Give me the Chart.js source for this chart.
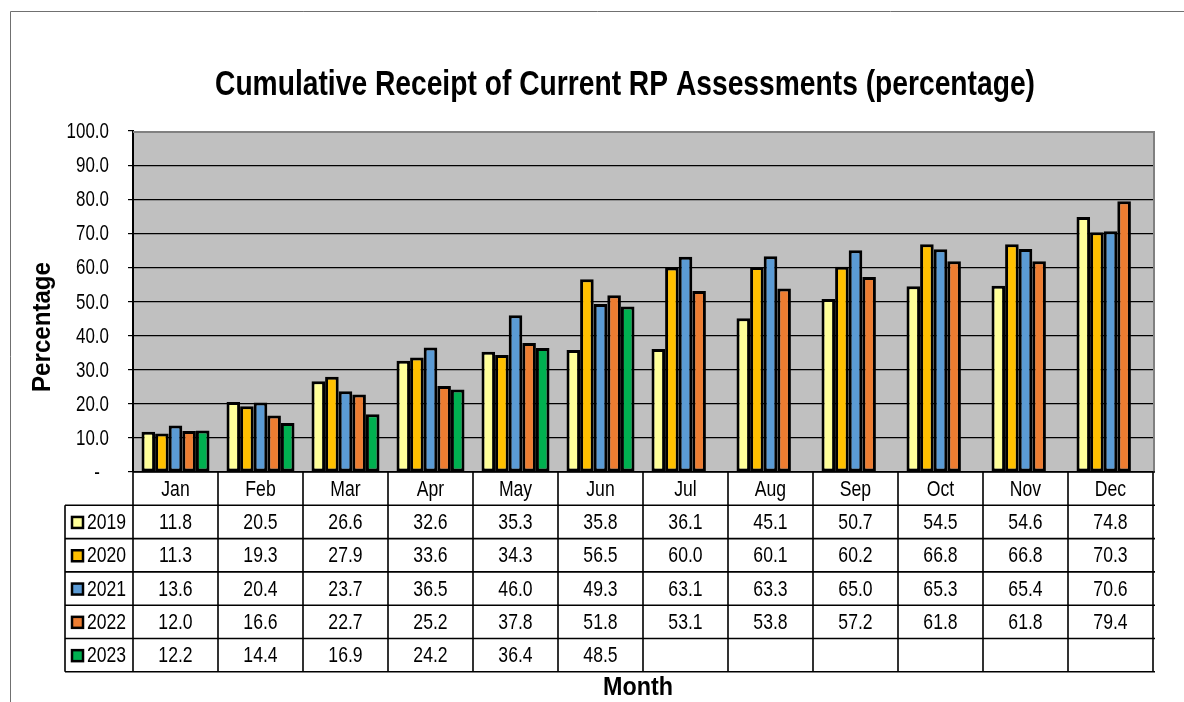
<!DOCTYPE html>
<html>
<head>
<meta charset="utf-8">
<script src="https://cdn.jsdelivr.net/npm/chart.js@4.4.1/dist/chart.umd.min.js"></script>
<style>
  html, body { margin: 0; padding: 0; background: #fff; }
  #wrap { width: 1184px; height: 702px; }
</style>
</head>
<body>
<div id="wrap"><canvas id="rpChart" width="1184" height="702"></canvas></div>
<script>
const months = ['Jan', 'Feb', 'Mar', 'Apr', 'May', 'Jun', 'Jul', 'Aug', 'Sep', 'Oct', 'Nov', 'Dec'];
const years = ['2019', '2020', '2021', '2022', '2023'];
const y2019 = [11.8, 20.5, 26.6, 32.6, 35.3, 35.8, 36.1, 45.1, 50.7, 54.5, 54.6, 74.8];
const y2020 = [11.3, 19.3, 27.9, 33.6, 34.3, 56.5, 60.0, 60.1, 60.2, 66.8, 66.8, 70.3];
const y2021 = [13.6, 20.4, 23.7, 36.5, 46.0, 49.3, 63.1, 63.3, 65.0, 65.3, 65.4, 70.6];
const y2022 = [12.0, 16.6, 22.7, 25.2, 37.8, 51.8, 53.1, 53.8, 57.2, 61.8, 61.8, 79.4];
const y2023 = [12.2, 14.4, 16.9, 24.2, 36.4, 48.5, null, null, null, null, null, null];
const yTicks = [0, 10, 20, 30, 40, 50, 60, 70, 80, 90, 100];

const seriesData = [y2019, y2020, y2021, y2022, y2023];
const colors = ['#FFFF99', '#FFC000', '#5B9BD5', '#ED7D31', '#00B050'];

const FONT = 'Arial, "Liberation Sans", sans-serif';
const SQUEEZE = 0.8; // o original é achatado na horizontal
const rowH = 33.3;

// texto achatado (como no original)
function narrowText(ctx, text, x, y, align, sx) {
  ctx.save();
  ctx.translate(x, y);
  ctx.scale(sx || SQUEEZE, 1);
  ctx.textAlign = align;
  ctx.fillText(text, 0, 0);
  ctx.restore();
}

// ajusta a largura do texto a um valor dado
function fitText(ctx, text, x, y, width) {
  const w = ctx.measureText(text).width;
  narrowText(ctx, text, x, y, 'center', width / w);
}

// fundo cinza + moldura externa
const backdrop = {
  id: 'backdrop',
  beforeDraw(chart) {
    const { ctx, chartArea: a } = chart;
    ctx.save();
    ctx.fillStyle = '#fff';
    ctx.fillRect(0, 0, chart.width, chart.height);
    ctx.strokeStyle = '#707070';
    ctx.lineWidth = 1;
    ctx.beginPath();
    ctx.moveTo(10.5, 702);
    ctx.lineTo(10.5, 11.5);
    ctx.lineTo(1184, 11.5);
    ctx.stroke();
    ctx.fillStyle = '#C0C0C0';
    ctx.fillRect(a.left, a.top, a.right - a.left, a.bottom - a.top);
    ctx.restore();
  }
};

// tabela de dados, rótulos, títulos e bordas
const dataTable = {
  id: 'dataTable',
  afterDraw(chart) {
    const { ctx, chartArea: a } = chart;
    const x = chart.scales.x;
    const y = chart.scales.y;
    const colW = (a.right - a.left) / months.length;
    const tableLeft = 65;
    const top = a.bottom;
    const bottom = top + rowH * (years.length + 1);

    ctx.save();
    // bordas do plot
    ctx.strokeStyle = '#808080';
    ctx.lineWidth = 2;
    ctx.beginPath();
    ctx.moveTo(a.left, a.top + 1);
    ctx.lineTo(a.right + 1, a.top + 1);
    ctx.lineTo(a.right + 1, a.bottom);
    ctx.stroke();

    ctx.strokeStyle = '#000';
    ctx.lineWidth = 1.6;
    ctx.beginPath();
    ctx.moveTo(a.left, top);
    ctx.lineTo(a.right + 2, top);
    for (let r = 1; r <= years.length + 1; r++) {
      const yy = top + r * rowH;
      ctx.moveTo(tableLeft, yy);
      ctx.lineTo(a.right + 2, yy);
    }
    ctx.moveTo(tableLeft, top + rowH);
    ctx.lineTo(tableLeft, bottom);
    for (let c = 0; c <= months.length; c++) {
      const xx = a.left + c * colW;
      ctx.moveTo(xx, top);
      ctx.lineTo(xx, bottom);
    }
    ctx.stroke();

    ctx.fillStyle = '#000';
    ctx.textBaseline = 'middle';

    // rótulos do eixo y
    ctx.font = '22px ' + FONT;
    yTicks.forEach(v => {
      const label = v === 0 ? '-' : v.toFixed(1);
      const px = v === 0 ? 100 : 109;
      narrowText(ctx, label, px, y.getPixelForValue(v) + 1, 'right', 0.77);
    });

    ctx.font = '22px ' + FONT;
    months.forEach((m, i) => {
      narrowText(ctx, m, x.getPixelForValue(i), top + rowH / 2 + 1, 'center');
    });

    seriesData.forEach((vals, r) => {
      const cy = top + (r + 1.5) * rowH + 1;
      vals.forEach((v, i) => {
        if (v === null) return;
        narrowText(ctx, v.toFixed(1), x.getPixelForValue(i), cy, 'center');
      });
      // chave da legenda
      ctx.fillStyle = colors[r];
      ctx.fillRect(72, cy - 6, 11, 11);
      ctx.strokeStyle = '#000';
      ctx.lineWidth = 2.5;
      ctx.strokeRect(72, cy - 6, 11, 11);
      ctx.fillStyle = '#000';
      narrowText(ctx, years[r], 87, cy, 'left');
    });

    // títulos
    ctx.font = 'bold 35px ' + FONT;
    fitText(ctx, 'Cumulative Receipt of Current RP Assessments (percentage)', 625, 85, 820);
    ctx.font = 'bold 26px ' + FONT;
    fitText(ctx, 'Month', 638, 688, 70);
    ctx.translate(43, 327);
    ctx.rotate(-Math.PI / 2);
    ctx.font = 'bold 25px ' + FONT;
    fitText(ctx, 'Percentage', 0, 0, 130);
    ctx.restore();
  }
};

const ctx = document.getElementById('rpChart').getContext('2d');
new Chart(ctx, {
  type: 'bar',
  data: {
    labels: months,
    datasets: years.map((yr, i) => ({
      label: yr,
      data: seriesData[i],
      backgroundColor: colors[i],
      borderColor: '#000',
      borderWidth: 3,
      borderSkipped: false,
      barPercentage: 1,
      categoryPercentage: 0.8
    }))
  },
  options: {
    responsive: false,
    animation: false,
    devicePixelRatio: 1,
    layout: { padding: { left: 12, top: 131, right: 31, bottom: 230 } },
    plugins: {
      legend: { display: false },
      title: { display: false },
      tooltip: { enabled: false }
    },
    scales: {
      x: { display: false },
      y: {
        min: 0,
        max: 100,
        afterFit(scale) { scale.width = 121; },
        afterBuildTicks(scale) { scale.ticks = yTicks.map(v => ({ value: v })); },
        ticks: { display: false },
        grid: {
          color: c => c.tick && c.tick.value === 100 ? 'rgba(0,0,0,0)' : '#000',
          tickColor: '#000',
          tickLength: 5,
          lineWidth: 1.2
        },
        border: { color: '#000', width: 2 }
      }
    }
  },
  plugins: [backdrop, dataTable]
});
</script>
</body>
</html>
